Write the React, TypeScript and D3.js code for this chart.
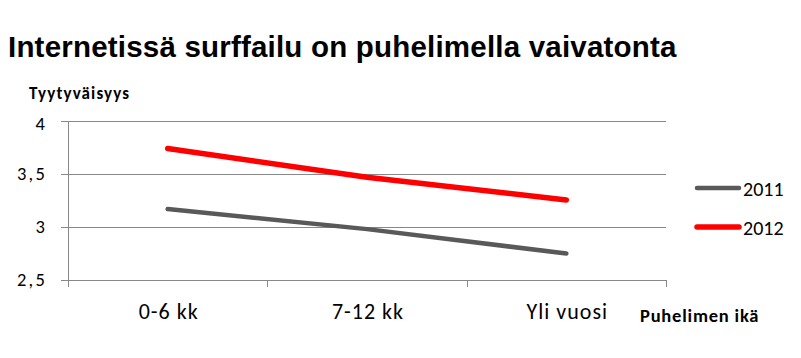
import React from "react";
import * as d3 from "d3";

const categories = ["0-6 kk", "7-12 kk", "Yli vuosi"];
const series2011 = [3.17, 2.98, 2.75];
const series2012 = [3.74, 3.47, 3.255];
const yTicks = [2.5, 3, 3.5, 4];
const seriesNames = ["2011", "2012"];
const seriesColors = ["#595959", "#ff0000"];
const seriesWidths = [4.5, 5.5];

const W = 801, H = 358;
const L = 68, R = 666, T = 121, B = 280;

export default function App() {
  const x = d3.scaleBand<string>().domain(categories).range([L, R]).padding(0);
  const y = d3.scaleLinear().domain([2.5, 4]).range([B, T]);
  const line = d3.line<number>()
    .x((_, i) => (x(categories[i]) as number) + x.bandwidth() / 2)
    .y((d) => y(d));
  const data = [series2011, series2012];
  const fmt = (v: number) => String(v).replace(".", ",");
  const font = "Calibri, Carlito, 'Open Sans', sans-serif";
  return (
    <svg width={W} height={H} style={{ position: "absolute", left: 0, top: 0, background: "#fff" }}>
      <text x={8} y={57} fontFamily="'Liberation Sans', Arial, sans-serif" fontWeight="bold" fontSize={29.5} letterSpacing={0.2} fill="#000">
        Internetissä surffailu on puhelimella vaivatonta
      </text>
      <text x={29} y={99} fontFamily={font} fontWeight="bold" fontSize={17} letterSpacing={1.1} fill="#000">Tyytyväisyys</text>
      {yTicks.map((t) => (
        <g key={t}>
          <line x1={61} x2={R} y1={Math.round(y(t)) + 0.5} y2={Math.round(y(t)) + 0.5} stroke="#888" strokeWidth={1} />
          <text x={47} y={Math.max(y(t) + 6, 130)} textAnchor="end" fontFamily={font} fontSize={18.5} letterSpacing={2.2} fill="#000">{fmt(t)}</text>
        </g>
      ))}
      <line x1={L + 0.5} x2={L + 0.5} y1={T} y2={B + 7} stroke="#888" strokeWidth={1} />
      {[...categories.map((c) => x(c) as number), R].map((v, i) => (
        <line key={i} x1={Math.round(v) + 0.5} x2={Math.round(v) + 0.5} y1={B} y2={B + 7} stroke="#888" strokeWidth={1} />
      ))}
      {categories.map((c) => (
        <text key={c} x={(x(c) as number) + x.bandwidth() / 2 + 1} y={319} textAnchor="middle" fontFamily={font} fontSize={22} letterSpacing={1} fill="#000">{c}</text>
      ))}
      {data.map((s, i) => (
        <path key={i} d={line(s) || ""} fill="none" stroke={seriesColors[i]} strokeWidth={seriesWidths[i]} strokeLinecap="round" strokeLinejoin="round" />
      ))}
      {seriesNames.map((n, i) => (
        <g key={n}>
          <line x1={697} x2={739} y1={188 + i * 39} y2={188 + i * 39} stroke={seriesColors[i]} strokeWidth={seriesWidths[i]} strokeLinecap="round" />
          <text x={743} y={196 + i * 39} fontFamily={font} fontSize={20} fill="#000">{n}</text>
        </g>
      ))}
      <text x={640} y={322} fontFamily={font} fontWeight="bold" fontSize={18.5} letterSpacing={0.8} fill="#000">Puhelimen ikä</text>
    </svg>
  );
}
